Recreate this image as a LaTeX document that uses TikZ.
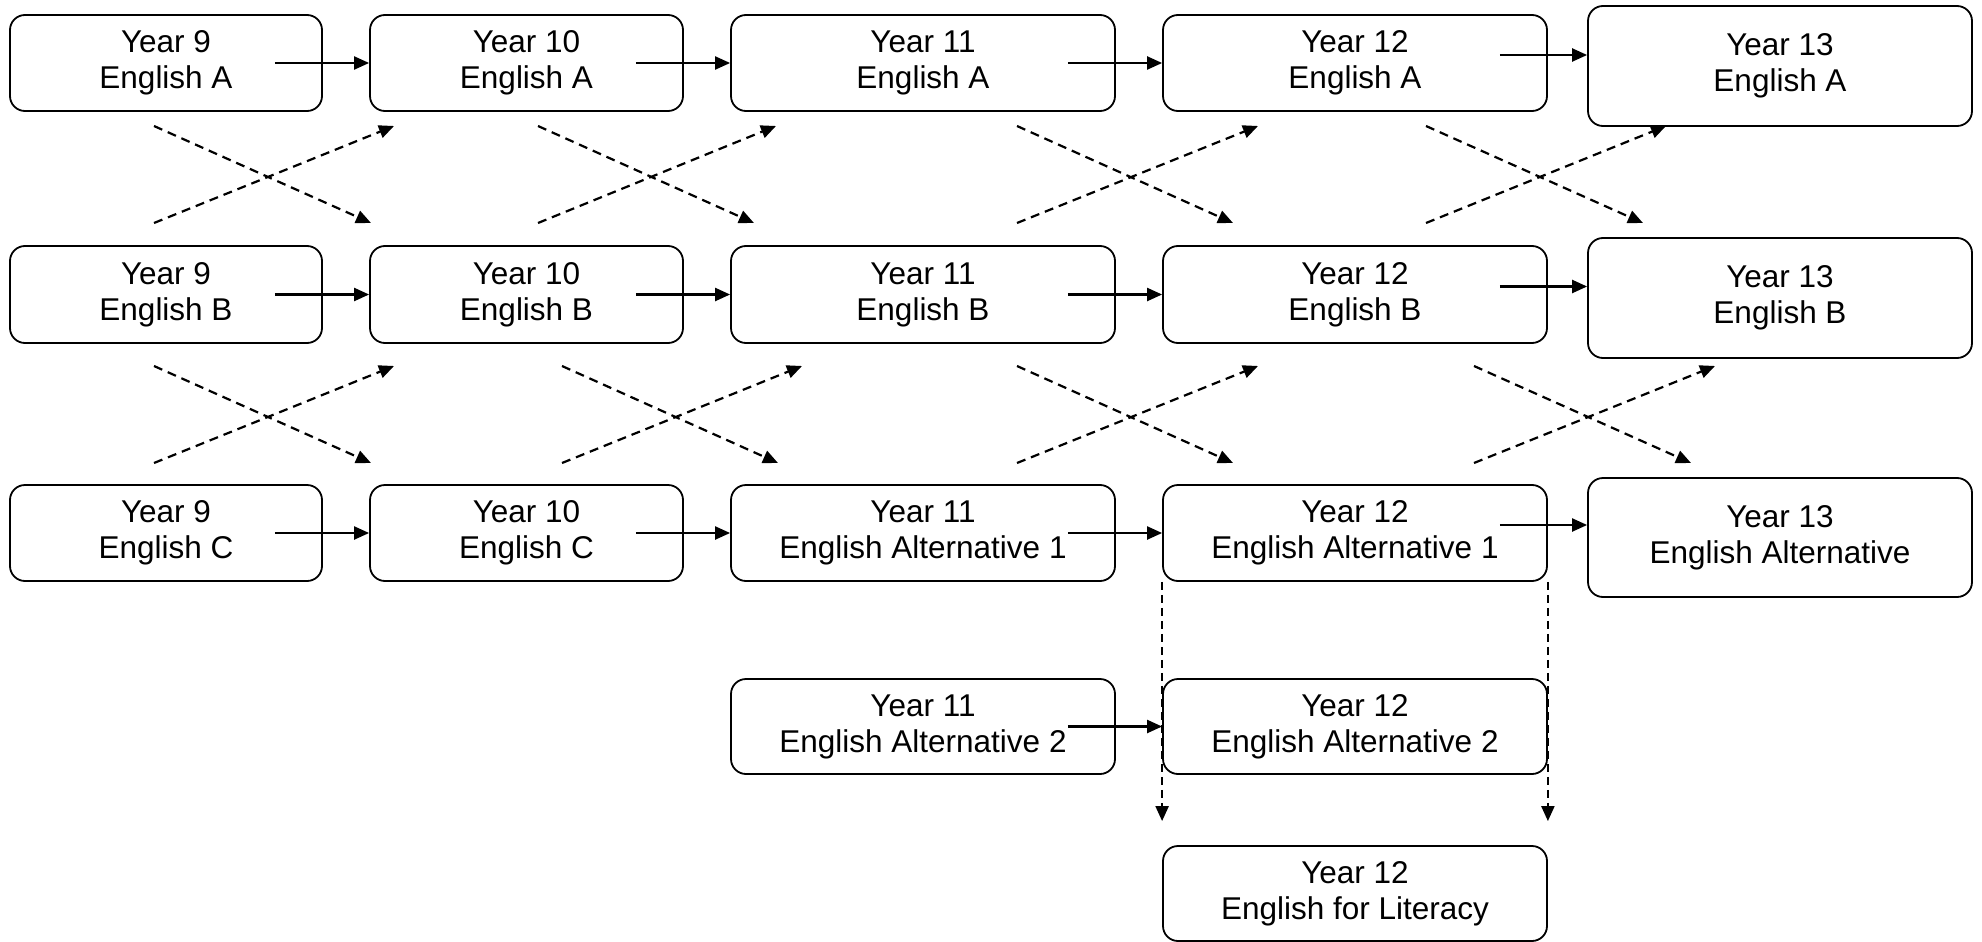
\documentclass[tikz,border=0pt]{standalone}
\usepackage{fontspec}
\setmainfont{Liberation Sans}
\usetikzlibrary{arrows.meta,calc}
\tikzset{
  box/.style={draw, line width=1.8pt, rounded corners=15pt, align=center,
    inner sep=0pt, font=\fontsize{31.5}{36}\selectfont,
    execute at begin node={\rule{0pt}{26.5pt}}},
  narrowbox/.style={box, minimum width=312pt},
  widebox/.style={box, minimum width=384pt},
  arr/.style={line width=2.2pt, -{Triangle[length=15pt,width=13pt]}},
  dasharr/.style={line width=2.2pt, dash pattern=on 9pt off 6pt,
    -{Triangle[length=15pt,width=13pt]}},
}
\begin{document}
\begin{tikzpicture}[x=1pt,y=-1pt]
\useasboundingbox (0,0) rectangle (1982,942);
% Row A
\node[narrowbox, minimum height=96pt] (y9a) at (166,63) {Year 9\\English A};
\node[narrowbox, minimum width=313pt, minimum height=96pt] (y10a) at (526.5,63) {Year 10\\English A};
\node[widebox, minimum height=96pt] (y11a) at (923,63) {Year 11\\English A};
\node[widebox, minimum height=96pt] (y12a) at (1355,63) {Year 12\\English A};
\node[widebox, minimum height=120pt] (y13a) at (1780,66) {Year 13\\English A};
% Row B
\node[narrowbox, minimum height=97pt] (y9b) at (166,294.5) {Year 9\\English B};
\node[narrowbox, minimum width=313pt, minimum height=97pt] (y10b) at (526.5,294.5) {Year 10\\English B};
\node[widebox, minimum height=97pt] (y11b) at (923,294.5) {Year 11\\English B};
\node[widebox, minimum height=97pt] (y12b) at (1355,294.5) {Year 12\\English B};
\node[widebox, minimum height=120pt] (y13b) at (1780,298) {Year 13\\English B};
% Row C
\node[narrowbox, minimum height=96pt] (y9c) at (166,533) {Year 9\\English C};
\node[narrowbox, minimum width=313pt, minimum height=96pt] (y10c) at (526.5,533) {Year 10\\English C};
\node[widebox, minimum height=96pt] (y11c) at (923,533) {Year 11\\English Alternative 1};
\node[widebox, minimum height=96pt] (y12c) at (1355,533) {Year 12\\English Alternative 1};
\node[widebox, minimum height=119pt] (y13c) at (1780,537.5) {Year 13\\English Alternative};
% Row D, E
\node[widebox, minimum height=95pt] (y11d) at (923,726.5) {Year 11\\English Alternative 2};
\node[widebox, minimum height=95pt] (y12d) at (1355,726.5) {Year 12\\English Alternative 2};
\node[widebox, minimum height=95pt] (y12e) at (1355,893.5) {Year 12\\English for Literacy};

% horizontal arrows
\foreach \a/\b in {y9a/y10a,y10a/y11a,y11a/y12a,y9b/y10b,y10b/y11b,y11b/y12b,
                   y9c/y10c,y10c/y11c,y11c/y12c,y11d/y12d}{
  \draw[arr] ([xshift=-48pt]\a.east) -- (\b.west);
}
\foreach \a/\b in {y12a/y13a,y12b/y13b,y12c/y13c}{
  \coordinate (s\a) at ([xshift=-48pt,yshift=8pt]\a.east);
  \draw[arr] (s\a) -- (s\a -| \b.west);
}

% dashed diagonal arrows
\foreach \n/\p/\q/\r/\s in {
  1/154/126/371/223, 2/154/223/394/126,
  3/538/126/754/223, 4/538/223/776/126,
  5/1017/126/1233/223, 6/1017/223/1258/126,
  7/1426/126/1643/223, 8/1426/223/1666/126,
  9/154/366/371/463, 10/154/463/394/366,
  11/562/366/778/463, 12/562/463/802/366,
  13/1017/366/1233/463, 14/1017/463/1258/366,
  15/1474/366/1691/463, 16/1474/463/1715/366}{
  \coordinate (d\n s) at (\p,\q);
  \coordinate (d\n e) at (\r,\s);
  \draw[dasharr] (d\n s) -- (d\n e);
}

% vertical dashed arrows
\coordinate (vl) at ([yshift=24pt]y12e.north west);
\coordinate (vr) at ([yshift=24pt]y12e.north east);
\draw[dasharr, dash pattern=on 8pt off 5pt] (y12c.south west) -- (vl);
\draw[dasharr, dash pattern=on 8pt off 5pt] (y12c.south east) -- (vr);
\end{tikzpicture}
\end{document}
